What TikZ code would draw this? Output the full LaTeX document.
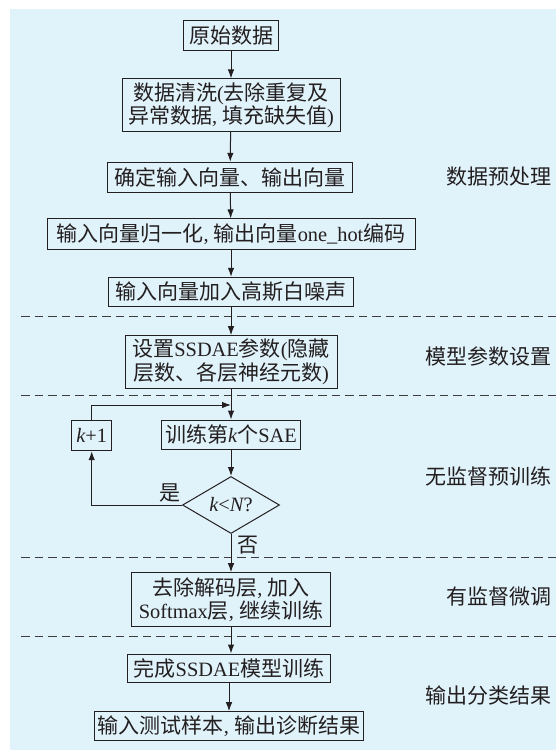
\documentclass[tikz,border=0pt]{standalone}
\usepackage{fontspec}
\usetikzlibrary{arrows.meta,shapes.geometric}
\newfontfamily\cjkf{Noto Sans CJK SC}
\newfontfamily\latf{Liberation Serif}[Scale=0.97]
\newcommand\lat[1]{{\latf #1}}
\definecolor{bgc}{RGB}{224,242,250}
\definecolor{lc}{RGB}{35,31,32}
\definecolor{dc}{RGB}{60,60,64}
\tikzset{
  box/.style={draw=lc, line width=1pt, inner sep=0pt, align=center, text=lc,
    font=\cjkf\fontsize{21}{23.5}\selectfont},
  dia/.style={draw=lc, line width=1pt, diamond, aspect=1.7, inner sep=0pt,
    minimum width=97pt, minimum height=57pt, text=lc,
    font=\cjkf\fontsize{21}{23.5}\selectfont},
  arr/.style={draw=lc, line width=1pt, -{Latex[length=9pt,width=6.5pt]}},
  sep/.style={draw=dc, line width=1pt, dash pattern=on 8.5pt off 5pt},
  lab/.style={text=lc, inner sep=0pt, font=\cjkf\fontsize{21}{23.5}\selectfont},
}
\begin{document}
\begin{tikzpicture}[x=1pt,y=-1pt]
\useasboundingbox (0,0) rectangle (556,750);
\fill[bgc] (10,9) rectangle (556,750);
% separators
\draw[sep] (21,316.7) -- (556,316.7);
\draw[sep] (21,395.7) -- (556,395.7);
\draw[sep] (21,557.3) -- (556,557.3);
\draw[sep] (21,636.5) -- (556,636.5);
% nodes
\node[box, minimum width=95pt, minimum height=30pt] (b1) at (231,35.7) {原始数据};
\node[box, minimum width=218pt, minimum height=52.7pt] (b2) at (231,105.3) {数据清洗\lat{(}去除重复及\\异常数据\lat{, }填充缺失值\lat{)}};
\node[box, minimum width=245pt, minimum height=30pt] (b3) at (230,177.3) {确定输入向量、输出向量};
\node[box, minimum width=368pt, minimum height=30.5pt] (b4) at (231,234.2) {输入向量归一化\lat{, }输出向量\lat{one\_hot}编码};
\node[box, minimum width=245pt, minimum height=29.4pt] (b5) at (231,292) {输入向量加入高斯白噪声};
\node[box, minimum width=212pt, minimum height=52.6pt] (b6) at (231,362) {设置\lat{SSDAE}参数\lat{(}隐藏\\层数、各层神经元数\lat{)}};
\node[box, minimum width=139pt, minimum height=29.3pt] (tr) at (231,434.7) {训练第\lat{\itshape k}个\lat{SAE}};
\node[box, minimum width=40pt, minimum height=30pt] (kp) at (91.7,435.7) {\lat{{\itshape k}+1}};
\node[dia] (d) at (231,505) {\lat{{\itshape k}<{\itshape N}?}};
\node[box, minimum width=199pt, minimum height=54pt] (b7) at (231,599.7) {去除解码层\lat{, }加入\\\lat{Softmax}层\lat{, }继续训练};
\node[box, minimum width=203pt, minimum height=28pt] (b8) at (229,668) {完成\lat{SSDAE}模型训练};
\node[box, minimum width=269pt, minimum height=29pt] (b9) at (229,726.2) {输入测试样本\lat{, }输出诊断结果};
\coordinate (j) at (231,405);
% connectors
\draw[arr] (b1) -- (b2);
\draw[arr] (b2) -- (b3);
\draw[arr] (b3) -- (b4);
\draw[arr] (b4) -- (b5);
\draw[arr] (b5) -- (b6);
\draw[arr] (b6) -- (tr);
\draw[arr] (kp.north) |- (j);
\draw[arr] (tr) -- (d);
\draw[arr] (d.west) -| (kp.south);
\draw[arr] (d.south) -- (b7.north);
\draw[arr] (b7.south) -- (b7.south |- b8.north);
\draw[arr] (b8) -- (b9);
% branch labels
\node[lab] (yes) at (170,493) {是};
\node[lab] (no) at (248,545) {否};
% stage labels
\node[lab, anchor=east] (s1) at (552,177) {数据预处理};
\node[lab, anchor=east] (s2) at (552,356) {模型参数设置};
\node[lab, anchor=east] (s3) at (552,476.5) {无监督预训练};
\node[lab, anchor=east] (s4) at (552,597) {有监督微调};
\node[lab, anchor=east] (s5) at (552,696) {输出分类结果};
\end{tikzpicture}
\end{document}
